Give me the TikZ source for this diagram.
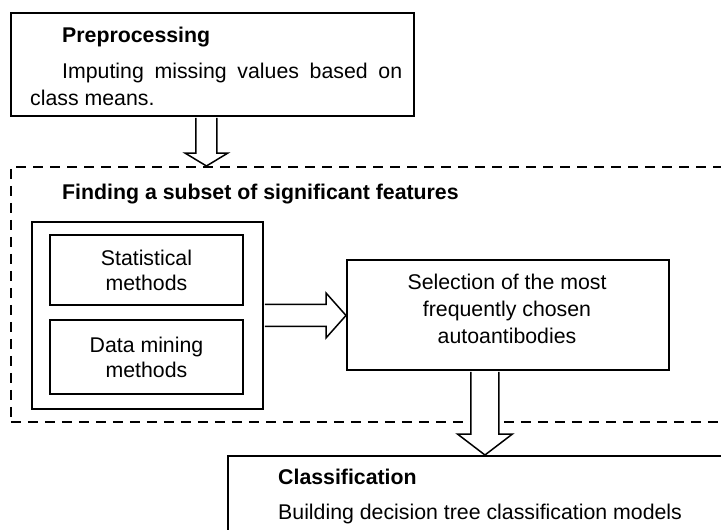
\documentclass[tikz,border=0pt]{standalone}
\usepackage{fontspec}
\setmainfont{Liberation Sans}
\usepackage{tikz}
\usetikzlibrary{calc}
\tikzstyle{box} = [draw, rectangle, line width=1.9pt, inner sep=0pt, align=center]
\tikzstyle{dashbox} = [draw, rectangle, dashed, dash pattern=on 10pt off 7pt, line width=1.6pt, inner sep=0pt]
\tikzstyle{head} = [anchor=base west, inner sep=0pt, font=\fontsize{21.3}{25}\selectfont\bfseries]
\tikzstyle{txt} = [anchor=base west, inner sep=0pt]
\tikzstyle{fat} = [draw, line width=1.5pt, fill=white, line join=miter]

\begin{document}
\begin{tikzpicture}[x=1pt, y=-1pt, font=\fontsize{21.3}{25}\selectfont]
\clip (0,0) rectangle (721,530);

% Preprocessing
\node[box, anchor=north west, minimum width=403pt, minimum height=103pt] (pre) at (10,12) {};
\node[head] (pretitle) at (62,42.5) {Preprocessing};
\node[txt, text width=372pt, align=justify, font=\fontsize{21.3}{27}\selectfont] (pretext) at (30,78.5)
    {\hspace*{32pt}Imputing missing values based on class means.};

% Finding features
\node[dashbox, anchor=north west, minimum width=730pt, minimum height=255pt] (find) at (10,166) {};
\node[head] (findtitle) at (62,199.5) {Finding a subset of significant features};
\node[box, anchor=north west, minimum width=231pt, minimum height=187pt] (methods) at (31,221) {};
\node[box, anchor=north west, minimum width=193pt, minimum height=70pt] (stat) at (49,234) {Statistical\\methods};
\node[box, anchor=north west, minimum width=193pt, minimum height=74pt] (dm) at (49,319) {Data mining\\methods};
\node[box, anchor=north west, minimum width=322pt, minimum height=110pt] (sel) at (346,259) {};
\node[align=center, inner sep=0pt, font=\fontsize{21.3}{27}\selectfont] (seltext) at (507,309)
    {Selection of the most\\frequently chosen\\autoantibodies};

% Classification
\node[box, anchor=north west, minimum width=520pt, minimum height=100pt] (class) at (227,455) {};
\node[head] (classtitle) at (278,484.5) {Classification};
\node[txt] (classtext) at (278,519.5) {Building decision tree classification models};

% Block arrows
\draw[fat] let \p1=([xshift=-6pt]pre.south), \p2=(find.north) in
    (\x1-10.5pt,\y1-1pt) -- (\x1-10.5pt,\y2+13pt) -- (\x1-21.5pt,\y2+13pt) -- (\x1,\y2)
    -- (\x1+21.5pt,\y2+13pt) -- (\x1+10.5pt,\y2+13pt) -- (\x1+10.5pt,\y1-1pt);
\draw[fat] let \p1=(methods.east), \p2=(sel.west) in
    (\x1+1pt,\y1+11pt) -- (\x2-20pt,\y1+11pt) -- (\x2-20pt,\y1+22.5pt) -- (\x2,\y1)
    -- (\x2-20pt,\y1-22.5pt) -- (\x2-20pt,\y1-11pt) -- (\x1+1pt,\y1-11pt);
\draw[fat] let \p1=([xshift=-23pt]sel.south), \p2=(class.north) in
    (\x1-14pt,\y1-1pt) -- (\x1-14pt,\y2+21pt) -- (\x1-27.5pt,\y2+21pt) -- (\x1,\y2)
    -- (\x1+27.5pt,\y2+21pt) -- (\x1+14pt,\y2+21pt) -- (\x1+14pt,\y1-1pt);
\end{tikzpicture}
\end{document}
